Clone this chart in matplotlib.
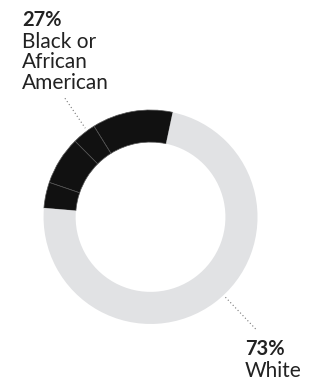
import matplotlib.pyplot as plt

# share of each group (black part is split in small sub pieces in the original)
groups = ['Black or\nAfrican\nAmerican', 'White']
shares = [27, 73]
black_parts = [12.2, 3.6, 7.3, 3.9]
part_values = black_parts + [shares[1]]

dark = '#111111'
light = '#e1e2e4'

fig = plt.figure(figsize=(3.2, 3.81), dpi=100)
ax = fig.add_axes([0, 0, 1, 1])

wedges, _ = ax.pie(part_values, startangle=78, counterclock=True, radius=1.0,
                   colors=[dark] * len(black_parts) + [light],
                   wedgeprops=dict(width=0.30, linewidth=0))
for w in wedges[:len(black_parts)]:
    w.set_edgecolor('#555555')
    w.set_linewidth(0.5)

ax.set_xlim(-1.407, 1.584)
ax.set_ylim(-1.533, 2.028)
ax.set_aspect('equal')
ax.axis('off')

txt = '#222222'
# black label
ax.text(-1.20, 1.785, f'{shares[0]}%', fontsize=14.5, fontweight='bold',
        family='Lato', color=txt, ha='left', va='baseline')
for i, line in enumerate(groups[0].split('\n')):
    ax.text(-1.20, 1.579 - i * 0.19, line, fontsize=15, fontweight='normal',
            family='Lato', color=txt, ha='left', va='baseline')
ax.plot([-0.80, -0.61], [1.11, 0.83], ls=(0, (1, 2.2)), color='#777777', lw=0.8)

# white label
ax.text(0.883, -1.29, f'{shares[1]}%', fontsize=14.5, fontweight='bold',
        family='Lato', color=txt, ha='left', va='baseline')
ax.text(0.883, -1.495, groups[1], fontsize=15, fontweight='normal',
        family='Lato', color=txt, ha='left', va='baseline')
ax.plot([0.70, 0.995], [-0.75, -1.06], ls=(0, (1, 2.2)), color='#777777', lw=0.8)

fig.savefig('out.png', dpi=100)
